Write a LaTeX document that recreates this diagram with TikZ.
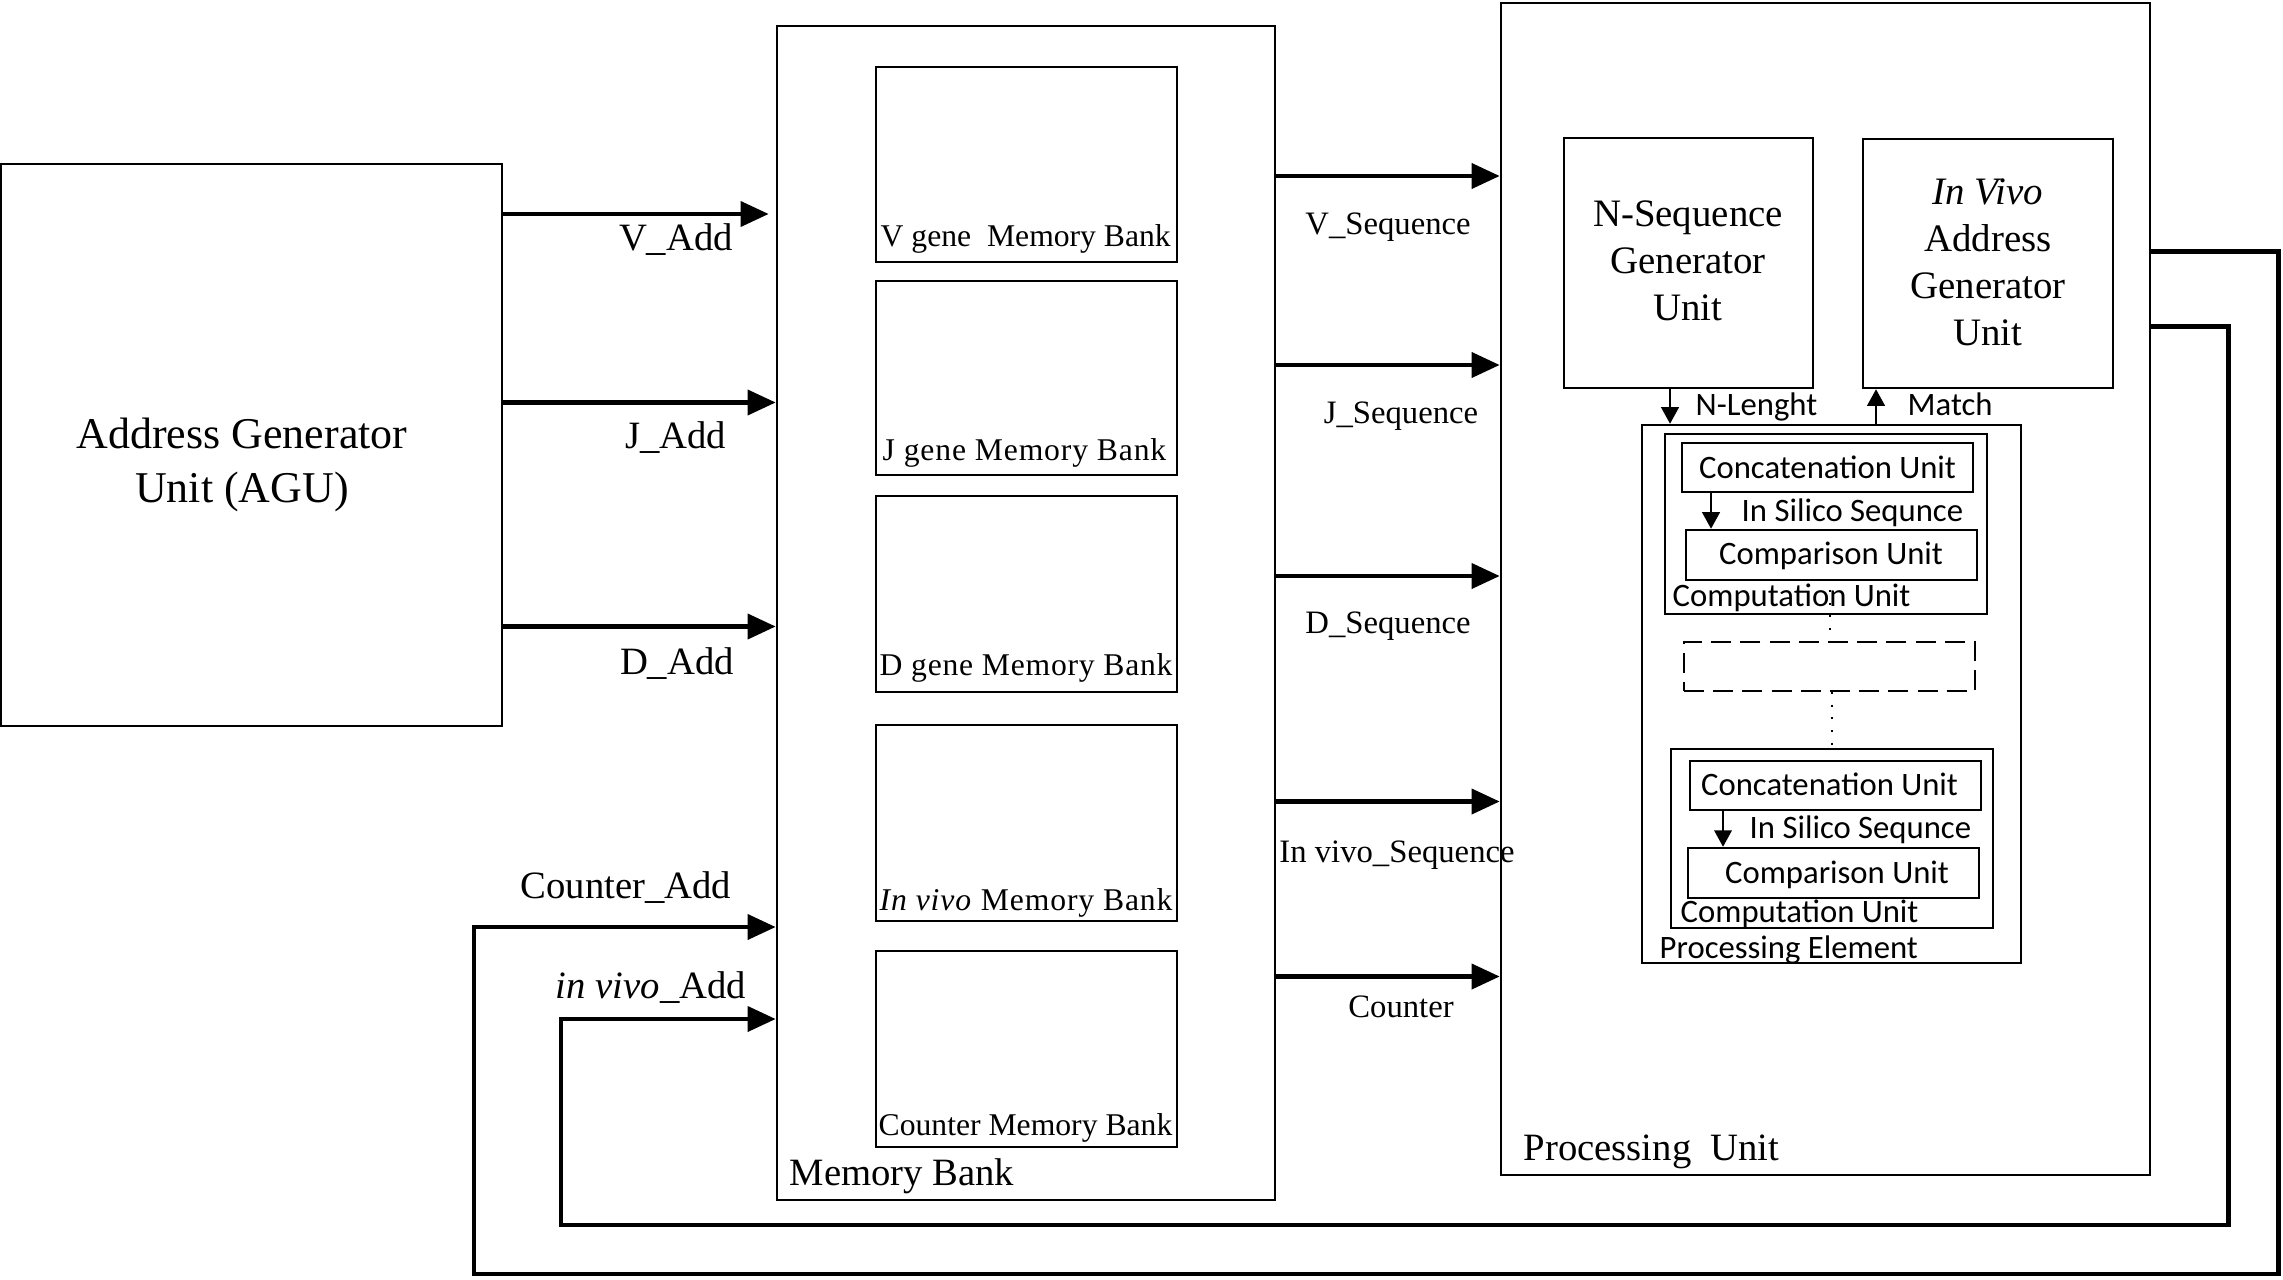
\documentclass[tikz,border=0pt]{standalone}
\usepackage{fontspec}
\setmainfont{Liberation Serif}
\newfontfamily\calib{Carlito}
\usetikzlibrary{fit,arrows.meta}
\begin{document}
\begin{tikzpicture}[x=0.01cm,y=-0.01cm,
  box/.style={draw, line width=0.7pt, inner sep=0pt},
  dashbox/.style={draw, line width=0.6pt, inner sep=0pt, dash pattern=on 5.7pt off 2.6pt},
  bus/.style={line width=1.4pt, -{Triangle[length=8pt,width=7pt]}},
  sig/.style={line width=0.6pt, -{Triangle[length=4.7pt,width=5pt]}},
  dots/.style={line width=0.6pt, dash pattern=on 0.6pt off 3pt},
  t/.style={inner sep=0pt, anchor=base},
  tw/.style={inner sep=0pt, anchor=base west},
  big/.style={font=\fontsize{12.5}{15}\selectfont},
  mid/.style={font=\fontsize{11}{13}\selectfont},
  gen/.style={font=\fontsize{11.05}{13}\selectfont},
  sm/.style={font=\fontsize{9}{11}\selectfont},
  seq/.style={font=\fontsize{9.3}{11}\selectfont},
  sans/.style={font=\calib\fontsize{9.3}{11}\selectfont}
]
\useasboundingbox (0,0) rectangle (2283,1279);

% Address generator unit
\node[box, fit={(1,164)(502,726)}] (agu) {};
\node[t, big] (agu1) at (242,448.5) {Address Generator};
\node[t, big] (agu2) at (242,502) {Unit (AGU)};

% Memory bank
\node[box, fit={(777,26)(1275,1200)}] (mem) {};
\node[tw, mid] (memlbl) at (789,1185) {Memory Bank};
\node[box, fit={(876,67)(1177,262)}] (vmem) {};
\node[box, fit={(876,281)(1177,475)}] (jmem) {};
\node[box, fit={(876,496)(1177,692)}] (dmem) {};
\node[box, fit={(876,725)(1177,921)}] (ivmem) {};
\node[box, fit={(876,951)(1177,1147)}] (cmem) {};
\node[tw, sm] (vmeml) at (880,246.5) {V gene\ \ Memory Bank};
\node[tw, sm] (jmeml) at (882,460) {\addfontfeature{LetterSpace=2.7}J gene Memory Bank};
\node[tw, sm] (dmeml) at (879,675) {\addfontfeature{LetterSpace=2.4}D gene Memory Bank};
\node[tw, sm] (ivmeml) at (879,910) {\addfontfeature{LetterSpace=2.8}\textit{In vivo} Memory Bank};
\node[tw, sm] (cmeml) at (878,1135) {Counter Memory Bank};

% Processing unit
\node[box, fit={(1501,3)(2150,1175)}] (pu) {};
\node[tw, mid] (pulbl) at (1523,1160) {Processing\ \ Unit};
\node[box, fit={(1564,138)(1813,388)}] (nseq) {};
\node[t, gen] (nseq1) at (1688,226.7) {N-Sequence};
\node[t, gen] (nseq2) at (1688,273) {Generator};
\node[t, gen] (nseq3) at (1688,320) {Unit};
\node[box, fit={(1863,139)(2113,388)}] (ivag) {};
\node[t, gen] (ivag1) at (1988,205) {\textit{In Vivo}};
\node[t, gen] (ivag2) at (1988,251.7) {Address};
\node[t, gen] (ivag3) at (1988,298) {Generator};
\node[t, gen] (ivag4) at (1988,345) {Unit};

% Processing element
\node[box, fit={(1642,425)(2021,963)}] (pe) {};
\node[tw, sans] (pelbl) at (1659,958) {Processing Element};
\node[box, fit={(1665,434)(1987,614)}] (cu1) {};
\node[box, fit={(1682,443)(1973,492)}] (cat1) {};
\node[box, fit={(1686,530)(1977,580)}] (cmp1) {};
\node[t, sans] (cat1l) at (1827.5,478) {Concatenation Unit};
\node[t, sans] (cmp1l) at (1831,564) {Comparison Unit};
\node[tw, sans] (cu1l) at (1672,606) {Computation Unit};
\node[tw, sans] (sil1) at (1741,521) {In Silico Sequnce};
\node[dashbox, fit={(1684,642)(1975,691)}] (dbox) {};
\node[box, fit={(1671,749)(1993,928)}] (cu2) {};
\node[box, fit={(1690,761)(1981,810)}] (cat2) {};
\node[box, fit={(1688,848)(1979,898)}] (cmp2) {};
\node[t, sans] (cat2l) at (1829.5,795) {Concatenation Unit};
\node[t, sans] (cmp2l) at (1837,883) {Comparison Unit};
\node[tw, sans] (cu2l) at (1680,922) {Computation Unit};
\node[tw, sans] (sil2) at (1749,838.5) {In Silico Sequnce};

\coordinate (x1) at (1711,0);
\coordinate (x2) at (1723,0);
\draw[sig] (cat1.south -| x1) -- (cmp1.north -| x1);
\draw[sig] (cat2.south -| x2) -- (cmp2.north -| x2);
\coordinate (d1) at (1830,590);
\coordinate (d2) at (1832,0);
\draw[dots] (d1) -- (dbox.north -| d1);
\draw[dots] (dbox.south -| d2) -- (cu2.north -| d2);

% N-Lenght and Match
\coordinate (nl) at (1670,0);
\coordinate (ml) at (1876,0);
\draw[sig] (nseq.south -| nl) -- (pe.north -| nl);
\draw[sig] (pe.north -| ml) -- (ivag.south -| ml);
\node[tw, sans] (nlbl) at (1695,415) {N-Lenght};
\node[tw, sans] (mlbl) at (1907,415) {Match};

% AGU -> memory
\coordinate (yV) at (0,214);
\coordinate (yJ) at (0,402.5);
\coordinate (yD) at (0,626.5);
\draw[bus] (agu.east |- yV) -- ([xshift=-0.07cm]mem.west |- yV);
\draw[bus] (agu.east |- yJ) -- (mem.west |- yJ);
\draw[bus] (agu.east |- yD) -- (mem.west |- yD);
\node[t, mid] (vadd) at (676,250) {V\_Add};
\node[t, mid] (jadd) at (675.5,448.5) {J\_Add};
\node[t, mid] (dadd) at (677,674) {D\_Add};

% memory -> PU
\coordinate (sV) at (0,176);
\coordinate (sJ) at (0,365);
\coordinate (sD) at (0,576);
\coordinate (sI) at (0,801.5);
\coordinate (sC) at (0,976.5);
\draw[bus] (mem.east |- sV) -- (pu.west |- sV);
\draw[bus] (mem.east |- sJ) -- (pu.west |- sJ);
\draw[bus] (mem.east |- sD) -- (pu.west |- sD);
\draw[bus] (mem.east |- sI) -- (pu.west |- sI);
\draw[bus] (mem.east |- sC) -- (pu.west |- sC);
\node[t, seq] (vseq) at (1388,235) {V\_Sequence};
\node[t, seq] (jseq) at (1401,423) {J\_Sequence};
\node[t, seq] (dseq) at (1388,633) {D\_Sequence};
\node[t, seq] (iseq) at (1397,862) {In vivo\_Sequence};
\node[t, seq] (cseq) at (1401,1017) {Counter};

% feedback loops
\coordinate (ca0) at (0,251.5);
\coordinate (ca1) at (2278,1274);
\coordinate (ca2) at (474,927);
\draw[bus] (pu.east |- ca0) -| (ca1) -| (ca2) -- (mem.west |- ca2);
\coordinate (cb0) at (0,326.5);
\coordinate (cb1) at (2228,1225);
\coordinate (cb2) at (561,1019);
\draw[bus] (pu.east |- cb0) -| (cb1) -| (cb2) -- (mem.west |- cb2);
\node[t, mid] (cadd) at (626,898) {Counter\_Add};
\node[t, mid] (iadd) at (651,998) {\textit{in vivo}\_Add};
\end{tikzpicture}
\end{document}
